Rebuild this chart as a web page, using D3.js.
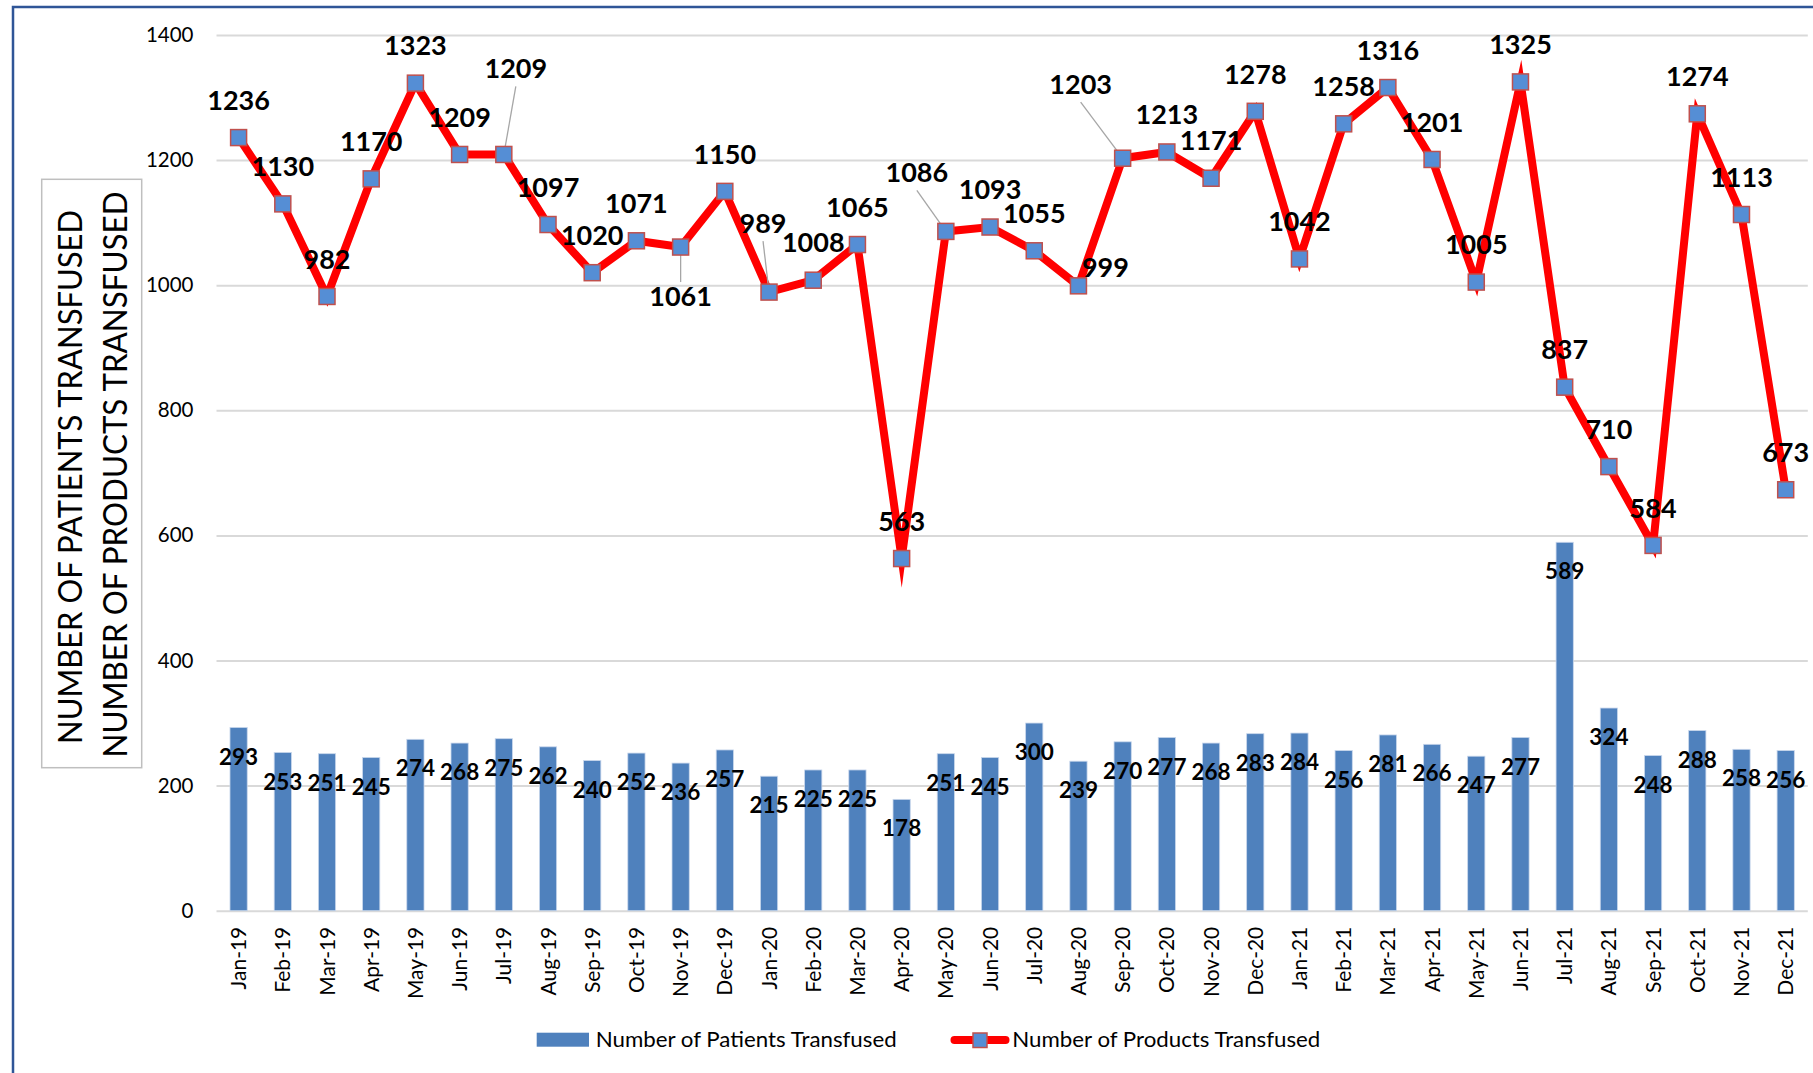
<!DOCTYPE html>
<html>
<head>
<meta charset="utf-8">
<script src="https://cdn.jsdelivr.net/npm/d3@7"></script>
<style>
  body { margin: 0; background: #fff; }
  svg text { font-family: Lato, "Open Sans", sans-serif; }
</style>
</head>
<body>
<svg id="chart" width="1813" height="1073"></svg>
<script>
// data
var months = ["Jan-19","Feb-19","Mar-19","Apr-19","May-19","Jun-19","Jul-19","Aug-19","Sep-19","Oct-19","Nov-19","Dec-19",
              "Jan-20","Feb-20","Mar-20","Apr-20","May-20","Jun-20","Jul-20","Aug-20","Sep-20","Oct-20","Nov-20","Dec-20",
              "Jan-21","Feb-21","Mar-21","Apr-21","May-21","Jun-21","Jul-21","Aug-21","Sep-21","Oct-21","Nov-21","Dec-21"];

var patients = [293,253,251,245,274,268,275,262,240,252,236,257,
                215,225,225,178,251,245,300,239,270,277,268,283,
                284,256,281,266,247,277,589,324,248,288,258,256];

var products = [1236,1130,982,1170,1323,1209,1209,1097,1020,1071,1061,1150,
                989,1008,1065,563,1086,1093,1055,999,1203,1213,1171,1278,
                1042,1258,1316,1201,1005,1325,837,710,584,1274,1113,673];

var yTicks = [0,200,400,600,800,1000,1200,1400];

var seriesNames = ["Number of Patients Transfused", "Number of Products Transfused"];
var axisTitle = ["NUMBER OF PATIENTS TRANSFUSED", "NUMBER OF PRODUCTS TRANSFUSED"];

// labels that were dragged away from their point: [dx, dy, leader line]
var moved = {
  "Jul-19": [12, -86, true],
  "Nov-19": [0, 49, true],
  "Jan-20": [-6, -69, true],
  "May-20": [-29, -59, true],
  "Aug-20": [27, -19, false],
  "Sep-20": [-42, -74, true]
};

var svg = d3.select("#chart");

// outer frame
svg.append("rect")
  .attr("x", 13).attr("y", 7)
  .attr("width", 1830).attr("height", 1090)
  .attr("fill", "none")
  .attr("stroke", "#2f5597")
  .attr("stroke-width", 2.5);

var plotLeft = 216.5, plotRight = 1807.8, plotTop = 35, plotBottom = 910.7;

var x = d3.scaleBand()
  .domain(months)
  .range([plotLeft, plotRight])
  .paddingInner(0.61)
  .paddingOuter(0.305);

var y = d3.scaleLinear()
  .domain([0, 1400])
  .range([plotBottom, plotTop]);

var cx = function(m) { return x(m) + x.bandwidth() / 2; };

// y axis + gridlines
var yAxis = svg.append("g")
  .attr("transform", "translate(" + plotLeft + ",0)")
  .call(d3.axisLeft(y).tickValues(yTicks).tickFormat(d3.format("d"))
        .tickSize(-(plotRight - plotLeft)).tickPadding(23));
yAxis.select(".domain").remove();
yAxis.selectAll("line").attr("stroke", "#d9d9d9").attr("stroke-width", 2);
yAxis.selectAll("text")
  .attr("fill", "#000")
  .style("font-size", "20.5px");

// x axis labels
var xAxis = svg.append("g")
  .attr("transform", "translate(0," + plotBottom + ")")
  .call(d3.axisBottom(x).tickSize(0));
xAxis.select(".domain").remove();
xAxis.selectAll("text")
  .attr("transform", "rotate(-90)")
  .attr("x", -16)
  .attr("y", 0)
  .attr("dy", "0.36em")
  .attr("text-anchor", "end")
  .attr("fill", "#000")
  .style("font-size", "21px");

// bars
svg.append("g").selectAll("rect")
  .data(patients)
  .enter()
  .append("rect")
  .attr("x", (d, i) => x(months[i]))
  .attr("y", d => y(d))
  .attr("width", x.bandwidth())
  .attr("height", d => plotBottom - y(d))
  .attr("fill", "#4f81bd")
  .attr("stroke", "#c9d7ec")
  .attr("stroke-width", 0.8);

svg.append("g").selectAll("text")
  .data(patients)
  .enter()
  .append("text")
  .attr("x", (d, i) => cx(months[i]))
  .attr("y", d => y(d) + 29)
  .attr("dy", "0.36em")
  .attr("text-anchor", "middle")
  .style("font-size", "22.5px")
  .style("font-weight", "bold")
  .text(d => d);

// products line
var line = d3.line()
  .x((d, i) => cx(months[i]))
  .y(d => y(d));

svg.append("path")
  .datum(products)
  .attr("d", line)
  .attr("fill", "none")
  .attr("stroke", "#ff0000")
  .attr("stroke-width", 8)
  .attr("stroke-linejoin", "miter")
  .attr("stroke-miterlimit", 10);

// leader lines
months.forEach(function(m, i) {
  var mv = moved[m];
  if (!mv || !mv[2]) return;
  var px = cx(m), py = y(products[i]);
  var lx = px + mv[0], ly = py + mv[1] + (mv[1] < 0 ? 18 : -14);
  var len = Math.hypot(px - lx, py - ly);
  var ex = px + (lx - px) * 7 / len, ey = py + (ly - py) * 7 / len;
  svg.append("line")
    .attr("x1", lx).attr("y1", ly)
    .attr("x2", ex).attr("y2", ey)
    .attr("stroke", "#a6a6a6")
    .attr("stroke-width", 1.3);
});

// markers
svg.append("g").selectAll("rect")
  .data(products)
  .enter()
  .append("rect")
  .attr("x", (d, i) => cx(months[i]) - 8)
  .attr("y", d => y(d) - 8)
  .attr("width", 16)
  .attr("height", 16)
  .attr("fill", "#558ed5")
  .attr("stroke", "#c0504d")
  .attr("stroke-width", 1.5);

svg.append("g").selectAll("text")
  .data(products)
  .enter()
  .append("text")
  .attr("x", (d, i) => cx(months[i]) + (moved[months[i]] ? moved[months[i]][0] : 0))
  .attr("y", (d, i) => y(d) + (moved[months[i]] ? moved[months[i]][1] : -37.5))
  .attr("dy", "0.36em")
  .attr("text-anchor", "middle")
  .style("font-size", "27px")
  .style("font-weight", "bold")
  .text(d => d);

// axis title box
svg.append("rect")
  .attr("x", 41.7).attr("y", 179.3)
  .attr("width", 100).attr("height", 588.4)
  .attr("fill", "#fff")
  .attr("stroke", "#bfbfbf")
  .attr("stroke-width", 1.5);

[[81.5, 477, 534], [126.5, 474.5, 566]].forEach(function(p, k) {
  svg.append("text")
    .attr("transform", "translate(" + p[0] + "," + p[1] + ") rotate(-90)")
    .attr("text-anchor", "middle")
    .attr("textLength", p[2])
    .attr("lengthAdjust", "spacingAndGlyphs")
    .style("font-size", "32.5px")
    .text(axisTitle[k]);
});

// legend
var lg = svg.append("g");
lg.append("rect")
  .attr("x", 536.7).attr("y", 1032.7)
  .attr("width", 52.3).attr("height", 14)
  .attr("fill", "#4f81bd");
lg.append("text")
  .attr("x", 595.7).attr("y", 1046.5)
  .attr("textLength", 301)
  .attr("lengthAdjust", "spacingAndGlyphs")
  .style("font-size", "22px")
  .text(seriesNames[0]);
lg.append("line")
  .attr("x1", 954.5).attr("x2", 1005.5)
  .attr("y1", 1040).attr("y2", 1040)
  .attr("stroke", "#ff0000")
  .attr("stroke-width", 8)
  .attr("stroke-linecap", "round");
lg.append("rect")
  .attr("x", 973).attr("y", 1033)
  .attr("width", 14).attr("height", 14.5)
  .attr("fill", "#558ed5")
  .attr("stroke", "#c0504d")
  .attr("stroke-width", 1.5);
lg.append("text")
  .attr("x", 1012.3).attr("y", 1046.5)
  .attr("textLength", 308)
  .attr("lengthAdjust", "spacingAndGlyphs")
  .style("font-size", "22px")
  .text(seriesNames[1]);
</script>
</body>
</html>
